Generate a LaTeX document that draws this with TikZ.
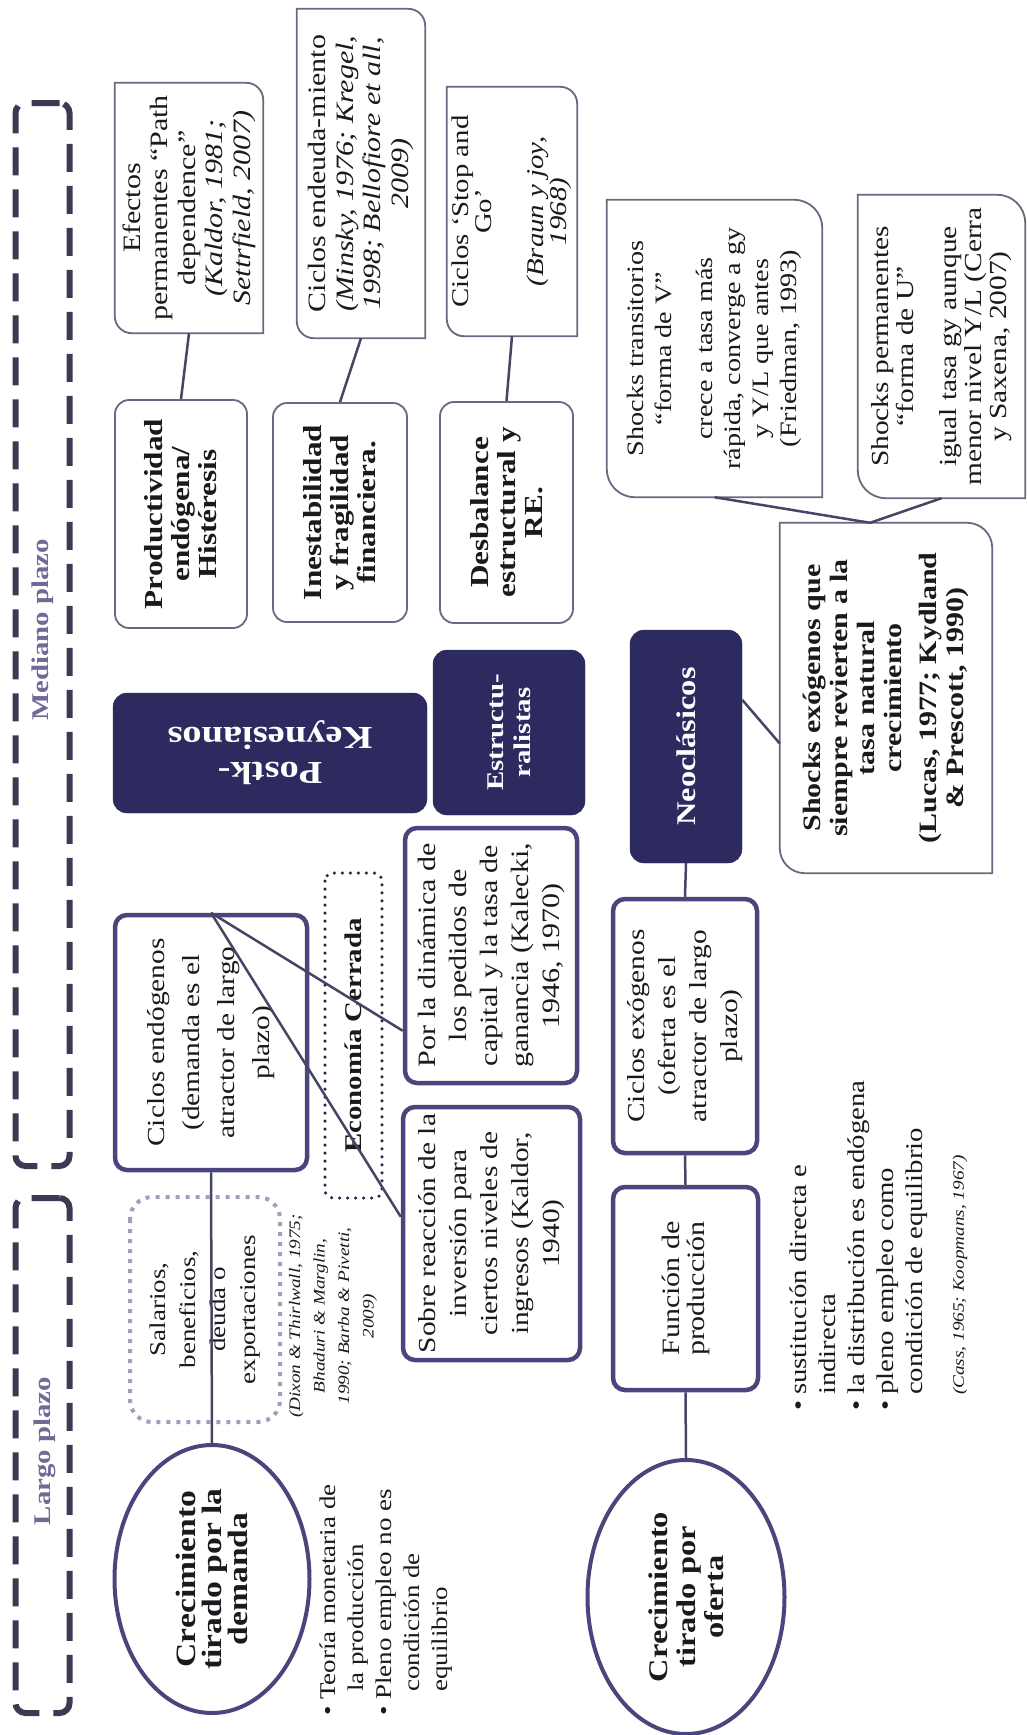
\documentclass[tikz,border=0pt]{standalone}
\usepackage{fontspec}
\setmainfont{Liberation Serif}[FakeStretch=1.2]
\usetikzlibrary{shapes.geometric,calc}

\definecolor{navyB}{RGB}{72,70,125}
\definecolor{navyF}{RGB}{45,42,96}
\definecolor{thinG}{RGB}{105,105,128}
\definecolor{lineC}{RGB}{70,70,100}
\definecolor{labC}{RGB}{112,106,150}
\definecolor{brkC}{RGB}{58,58,84}
\definecolor{dotG}{RGB}{160,160,190}
\definecolor{dotD}{RGB}{40,40,75}
\definecolor{txtC}{RGB}{25,25,30}

\newcommand{\diagframe}[2]{\draw[thinln] (#1.north east) -- ([xshift=-#2]#1.south east) arc[start angle=90,end angle=0,radius=#2] -- (#1.south west) -- ([xshift=#2]#1.north west) arc[start angle=270,end angle=180,radius=#2] -- cycle;}

\tikzset{
  rot/.style={rotate=90, align=center, inner sep=0pt, text=txtC},
  thinln/.style={draw=thinG, line width=1.8pt},
  midbox/.style={rot, draw=thinG, line width=1.8pt, rounded corners=14pt, font=\bfseries\fontsize{26}{27}\selectfont},
  thickbox/.style={rot, draw=navyB, line width=4.5pt, rounded corners=12pt},
  darkbox/.style={inner sep=0pt, fill=navyF, draw=navyF, rounded corners=14pt, text=white, align=center},
  ell/.style={rot, ellipse, draw=navyB, line width=4pt},
  conn/.style={draw=lineC, line width=2.5pt},
  bracket/.style={draw=brkC, line width=6pt, dash pattern=on 28pt off 14pt, rounded corners=10pt, inner sep=0pt},
  brklabel/.style={rot, text=labC, font=\bfseries\fontsize{24}{24}\selectfont},
  econbox/.style={draw=dotD, line width=3.5pt, dash pattern=on 0pt off 8pt, line cap=round, rounded corners=8pt},
  salbox/.style={draw=dotG, line width=4pt, dash pattern=on 4pt off 6pt, rounded corners=22pt},
}

\begin{document}
\begin{tikzpicture}[x=1pt,y=1pt]
\fill[white] (0,0) rectangle (1026,-1735);
\useasboundingbox (0,0) rectangle (1026,-1735);

% time frames
\node[bracket, minimum width=54, minimum height=1063] (midframe) at (42.5,-634.5) {};
\node[bracket, minimum width=54, minimum height=515] (longframe) at (42.5,-1455.5) {};
\node[brklabel] (midlab) at (43,-630) {Mediano plazo};
\node[brklabel] (longlab) at (45,-1451) {Largo plazo};

% top row (thin diagonal boxes)
\node[rot, minimum width=250, minimum height=148, font=\fontsize{25}{27.5}\selectfont] (efect) at (189,-208)
  {Efectos\\permanentes “Path\\dependence”\\\textit{(Kaldor, 1981;}\\\textit{Settrfield, 2007)}};
\diagframe{efect}{17pt}
\node[rot, minimum width=329, minimum height=128, font=\fontsize{25}{27.5}\selectfont] (endeu) at (361,-173.5)
  {Ciclos endeuda-miento\\\textit{(Minsky, 1976; Kregel,}\\\textit{1998; Bellofiore et all,}\\\textit{2009)}};
\diagframe{endeu}{17pt}
\node[rot, minimum width=249, minimum height=130, font=\fontsize{24}{23}\selectfont] (stop) at (512,-211.5)
  {Ciclos ‘Stop and\\Go’\\[29pt]\textit{(Braun y joy,}\\\textit{1968)}};
\diagframe{stop}{17pt}

% middle row (bold boxes)
\node[midbox, minimum width=228, minimum height=132] (prod) at (181,-514) {Productividad\\endógena/\\Histéresis};
\node[midbox, minimum width=219, minimum height=134] (inest) at (340,-512.5) {Inestabilidad\\y fragilidad\\financiera.};
\node[midbox, minimum width=221, minimum height=133] (desb) at (506.5,-512.5) {Desbalance\\estructural y\\RE.};

% shocks boxes
\node[rot, minimum width=297, minimum height=215, font=\fontsize{23.5}{28}\selectfont] (trans) at (714.5,-348.5)
  {Shocks transitorios\\“forma de V”\\[13pt]crece a tasa más\\rápida, converge a gy\\y Y/L que antes\\(Friedman, 1993)};
\diagframe{trans}{28pt}
\node[rot, minimum width=303, minimum height=167, font=\fontsize{24.5}{25}\selectfont] (perm) at (941.5,-346.5)
  {Shocks permanentes\\“forma de U”\\[18pt]igual tasa gy aunque\\menor nivel Y/L (Cerra\\y Saxena, 2007)};
\diagframe{perm}{28pt}
\node[rot, minimum width=350, minimum height=212, font=\bfseries\fontsize{25}{27}\selectfont] (shock) at (886,-698)
  {Shocks exógenos que\\siempre revierten a la\\tasa natural\\crecimiento\\[8pt](Lucas, 1977; Kydland\\\& Prescott, 1990)};
\diagframe{shock}{25pt}

% schools
\node[darkbox, rotate=180, minimum width=314, minimum height=120, font=\bfseries\fontsize{32}{35}\selectfont] (postk) at (270,-753) {Postk-\\Keynesianos};
\node[rot, darkbox, minimum width=165, minimum height=152, font=\bfseries\fontsize{24}{27}\selectfont] (estr) at (509,-732.5) {Estructu-\\ralistas};
\node[rot, darkbox, minimum width=233, minimum height=112, font=\bfseries\fontsize{27}{28}\selectfont] (neo) at (686,-746.5) {Neoclásicos};

% demand side
\node[thickbox, minimum width=255, minimum height=192, font=\fontsize{24.5}{35}\selectfont] (cend) at (211,-1042.5)
  {Ciclos endógenos\\(demanda es el\\atractor de largo\\plazo)};
\node[rot, econbox, minimum width=325, minimum height=57, font=\bfseries\fontsize{24}{24}\selectfont] (econ) at (353.5,-1035.5) {Economía Cerrada};
\node[thickbox, minimum width=255, minimum height=172, font=\fontsize{25}{31}\selectfont] (porla) at (491,-955.5)
  {Por la dinámica de\\los pedidos de\\capital y la tasa de\\ganancia (Kalecki,\\1946, 1970)};
\node[thickbox, minimum width=253, minimum height=177, font=\fontsize{24.5}{31}\selectfont] (sobre) at (491.5,-1233.5)
  {Sobre reacción de la\\inversión para\\ciertos niveles de\\ingresos (Kaldor,\\1940)};
\node[rot, salbox, minimum width=225, minimum height=150, font=\fontsize{22.5}{30}\selectfont] (sal) at (205,-1309.5)
  {Salarios,\\beneficios,\\deuda o\\exportaciones};
\node[rot, font=\itshape\fontsize{16}{24.5}\selectfont] (salcite) at (333,-1316)
  {(Dixon \& Thirlwall, 1975;\\Bhaduri \& Marglin,\\1990; Barba \& Pivetti,\\2009)};
\node[ell, minimum width=268, minimum height=195, font=\bfseries\fontsize{28}{26}\selectfont] (dem) at (212,-1579)
  {Crecimiento\\tirado por la\\demanda};
\node[rot, align=left, anchor=west, font=\fontsize{22.5}{28}\selectfont] (dembul) at (386.5,-1716)
  {\makebox[16pt][l]{•}Teoría monetaria de\\\hspace*{24pt}la producción\\\makebox[16pt][l]{•}Pleno empleo no es\\\hspace*{24pt}condición de\\\hspace*{24pt}equilibrio};

% supply side
\node[thickbox, minimum width=254, minimum height=144, font=\fontsize{24.5}{31}\selectfont] (cexo) at (685,-1026)
  {Ciclos exógenos\\(oferta es el\\atractor de largo\\plazo)};
\node[thickbox, minimum width=203, minimum height=145, font=\fontsize{25}{25}\selectfont] (func) at (685.5,-1288.5)
  {Función de\\producción};
\node[ell, minimum width=274, minimum height=197, font=\bfseries\fontsize{27}{28}\selectfont] (ofe) at (686,-1597)
  {Crecimiento\\tirado por\\oferta};
\node[rot, align=left, anchor=west, font=\fontsize{24}{29}\selectfont] (neobul) at (858.5,-1411)
  {\makebox[16pt][l]{•}sustitución directa e\\\hspace*{16pt}indirecta\\\makebox[16pt][l]{•}la distribución es endógena\\\makebox[16pt][l]{•}pleno empleo como\\\hspace*{16pt}condición de equilibrio};
\node[rot, align=left, anchor=west, font=\itshape\fontsize{16}{20}\selectfont] (neocite) at (960,-1395)
  {(Cass, 1965; Koopmans, 1967)};

% connectors
\coordinate (shtop) at ($(shock.east)!0.15!(shock.north east)$);
\draw[conn] (efect.west) -- (prod.east);
\draw[conn] (endeu.west) -- (inest.east);
\draw[conn] (stop.west) -- (desb.east);
\draw[conn] (shtop) -- (trans.west);
\draw[conn] (shtop) -- (perm.west);
\draw[conn] ($(neo.south east)!0.3!(neo.south west)$) -- ($(shock.north)!0.26!(shock.north west)$);
\draw[conn] (neo.west) -- (cexo.east);
\draw[conn] (cexo.west) -- (func.east);
\draw[conn] (func.west) -- (ofe.east);
\draw[conn] (cend.west) -- (dem.east);
\draw[conn] (cend.east) -- ($(porla.north)!0.58!(porla.north west)$);
\draw[conn] (cend.east) -- ($(sobre.north)!0.13!(sobre.north east)$);
\end{tikzpicture}
\end{document}
